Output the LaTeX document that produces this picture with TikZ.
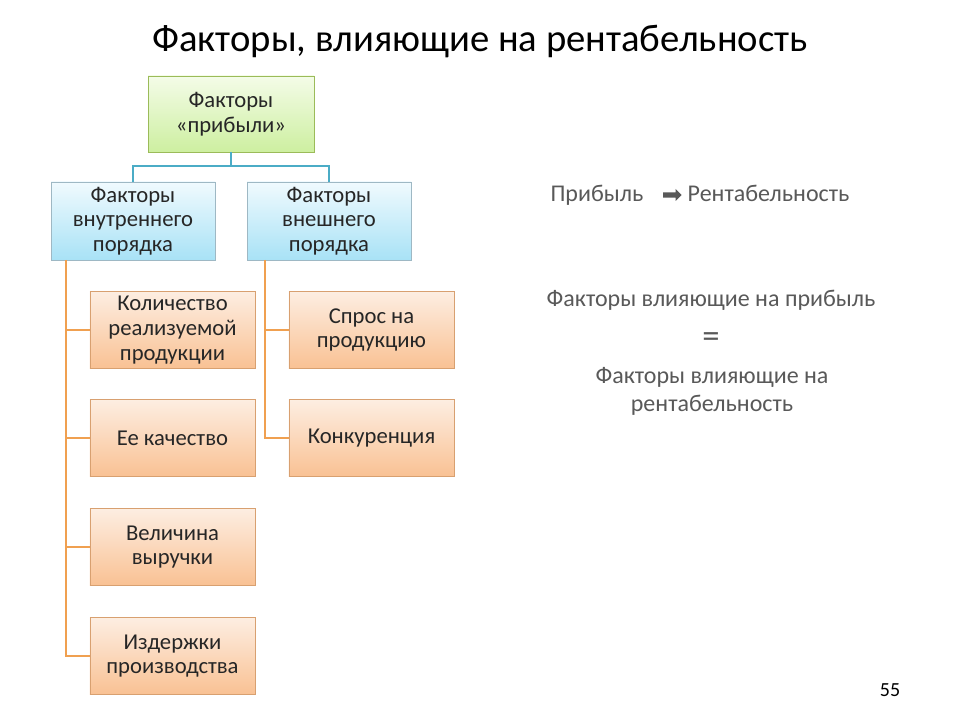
\documentclass[tikz,border=0pt]{standalone}
\usepackage{fontspec}
\setmainfont{Carlito}
\usetikzlibrary{shapes.arrows}
\definecolor{gtop}{HTML}{F4FCE8}\definecolor{gbot}{HTML}{CDEFA0}\definecolor{gline}{HTML}{9BBB59}
\definecolor{btop}{HTML}{F0FAFE}\definecolor{bbot}{HTML}{A8E2F6}\definecolor{bline}{HTML}{9EB8C4}
\definecolor{otop}{HTML}{FDEEE2}\definecolor{obot}{HTML}{F9C193}\definecolor{oline}{HTML}{D8A070}
\definecolor{teal}{HTML}{4BACC6}\definecolor{orl}{HTML}{F0A050}\definecolor{txt}{HTML}{595959}
\begin{document}
\begin{tikzpicture}[x=0.75pt,y=-0.75pt,
 box/.style={draw=#1line,top color=#1top,bottom color=#1bot,align=center,font=\fontsize{17}{18.5}\selectfont,text=black!85,inner sep=0pt},
 gt/.style={text=txt,font=\fontsize{18}{21}\selectfont,align=center}]
\useasboundingbox (0,0) rectangle (960,720);
\fill[white] (0,0) rectangle (960,720);
\node[font=\fontsize{29}{32}\selectfont] (title) at (480,42) {Факторы, влияющие на рентабельность};
\node[box=g,minimum width=124.5pt,minimum height=57pt] (top) at (231,114) {Факторы\\«прибыли»};
\node[box=b,minimum width=123pt,minimum height=58.5pt] (int) at (133,221) {Факторы\\внутреннего\\порядка};
\node[box=b,minimum width=123pt,minimum height=58.5pt] (ext) at (329,221) {Факторы\\внешнего\\порядка};
\foreach \n/\y/\t in {a/330/{Количество\\реализуемой\\продукции},b/438/{Ее качество},c/547/{Величина\\выручки},d/656/{Издержки\\производства}}
  \node[box=o,minimum width=124pt,minimum height=58pt] (\n) at (172.5,\y) {\t};
\foreach \n/\y/\t in {e/330/{Спрос на\\продукцию},f/438/{Конкуренция}}
  \node[box=o,minimum width=124pt,minimum height=58pt] (\n) at (371.5,\y) {\t};
\coordinate (j) at (231,166);
\draw[teal,line width=1.2pt] (top.south) -- (j) (int.north) |- (j) -| (ext.north);
\draw[orl,line width=1.2pt] (66,260) |- (d.west) (66,0|-a.west) -- (a.west) (66,0|-b.west) -- (b.west) (66,0|-c.west) -- (c.west);
\draw[orl,line width=1.2pt] (265,260) |- (f.west) (265,0|-e.west) -- (e.west);
\node[gt,anchor=base east] (p) at (648,202) {Прибыль};
\node[single arrow,fill=txt,minimum height=14pt,inner sep=1.8pt,single arrow head extend=2.5pt] (ar) at (671,195) {};
\node[gt,anchor=base west] (r) at (683,202) {Рентабельность};
\node[gt] (f1) at (711,300) {Факторы влияющие на прибыль};
\node[gt,font=\fontsize{26}{26}\selectfont] (eq) at (711,340) {=};
\node[gt] (f2) at (712,391) {Факторы влияющие на\\рентабельность};
\node[font=\fontsize{15}{16}\selectfont] (num) at (890,690) {55};
\end{tikzpicture}
\end{document}
